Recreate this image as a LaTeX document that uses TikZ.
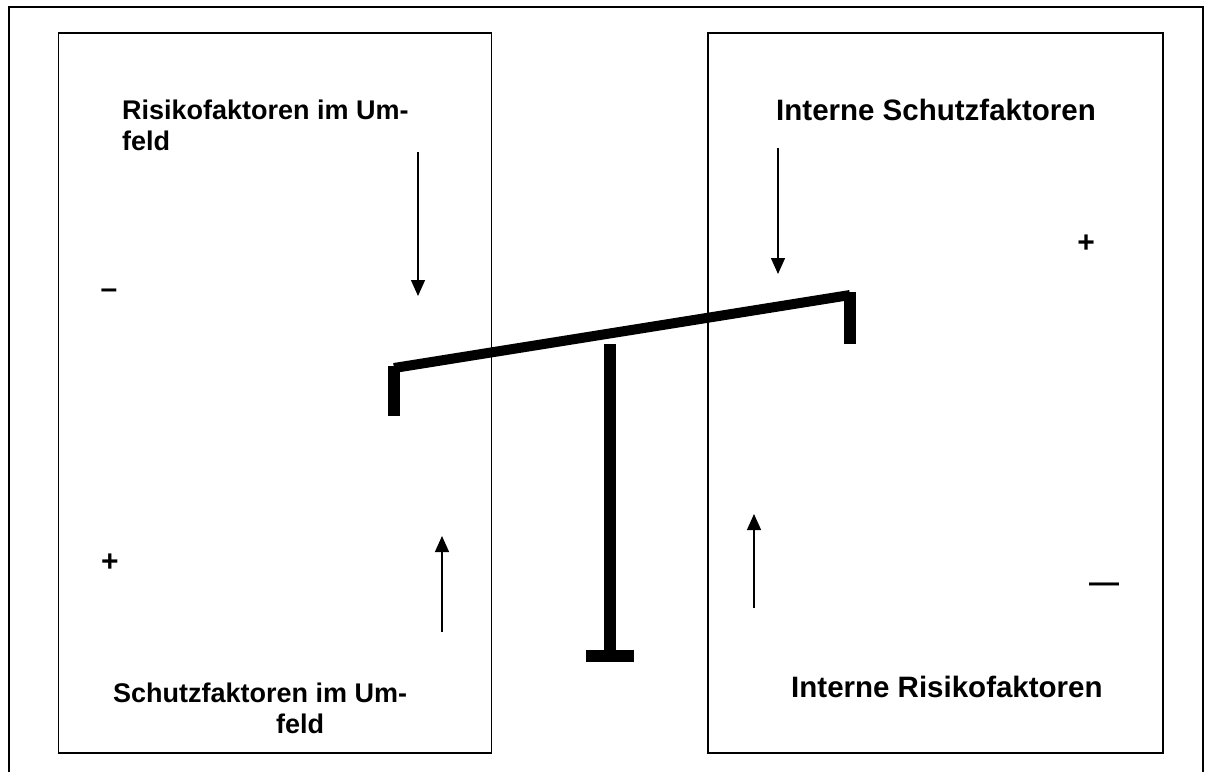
\documentclass[tikz,border=0pt]{standalone}
\usepackage{fontspec}
\setmainfont{Liberation Sans}
\usetikzlibrary{arrows.meta}
\begin{document}
\begin{tikzpicture}[x=1pt,y=-1pt,
  frame/.style={draw=black,line width=2pt},
  boxline/.style={draw=black,line width=1.6pt},
  arr/.style={draw=black,line width=1.4pt,-{Triangle[width=14pt,length=16pt]}},
  solid/.style={fill=black,draw=none},
  lbl/.style={font=\fontsize{27}{31}\selectfont\bfseries,inner sep=0pt,anchor=base west},
  lblr/.style={font=\fontsize{29.5}{33}\selectfont\bfseries,inner sep=0pt,anchor=base west},
  sign/.style={font=\fontsize{30}{34}\selectfont\bfseries,inner sep=0pt}]
\useasboundingbox (0,0) rectangle (1206,772);
% outer frame
\draw[frame] (9,772) -- (9,7) -- (1203,7) -- (1203,772);
% boxes
\node[boxline,minimum width=433pt,minimum height=720pt,anchor=north west,inner sep=0pt] (lbox) at (57.5,32) {};
\node[boxline,minimum width=455pt,minimum height=720pt,anchor=north west,inner sep=0pt] (rbox) at (707,32) {};
% balance
\coordinate (bl) at (394,368);
\coordinate (br) at (850,295);
\draw[line width=10pt] (bl) -- (br);
\fill[solid] (388,366) rectangle (400,416);
\fill[solid] (844,292) rectangle (856,344);
\fill[solid] (604,344) rectangle (616,662);
\fill[solid] (586,650) rectangle (634,662);
% arrows
\coordinate (a1s) at (418,152); \coordinate (a1e) at (418,296);
\coordinate (a2s) at (778,148); \coordinate (a2e) at (778,274);
\coordinate (a3s) at (442,632); \coordinate (a3e) at (442,536);
\coordinate (a4s) at (754,608); \coordinate (a4e) at (754,514);
\draw[arr] (a1s) -- (a1e);
\draw[arr] (a2s) -- (a2e);
\draw[arr] (a3s) -- (a3e);
\draw[arr] (a4s) -- (a4e);
% labels
\node[lbl] (t1a) at (122,119) {Risikofaktoren im Um-};
\node[lbl] (t1b) at (122,150) {feld};
\node[lblr] (t2) at (776,120) {Interne Schutzfaktoren};
\node[lbl] (t3a) at (113,702) {Schutzfaktoren im Um-};
\node[lbl] (t3b) at (276,733) {feld};
\node[lblr] (t4) at (791,697) {Interne Risikofaktoren};
% signs
\node[sign] (s1) at (109,294) {–};
\node[sign] (s2) at (1086,244) {+};
\node[sign] (s3) at (110,563) {+};
\node[sign] (s4) at (1104,588) {—};
\end{tikzpicture}
\end{document}
